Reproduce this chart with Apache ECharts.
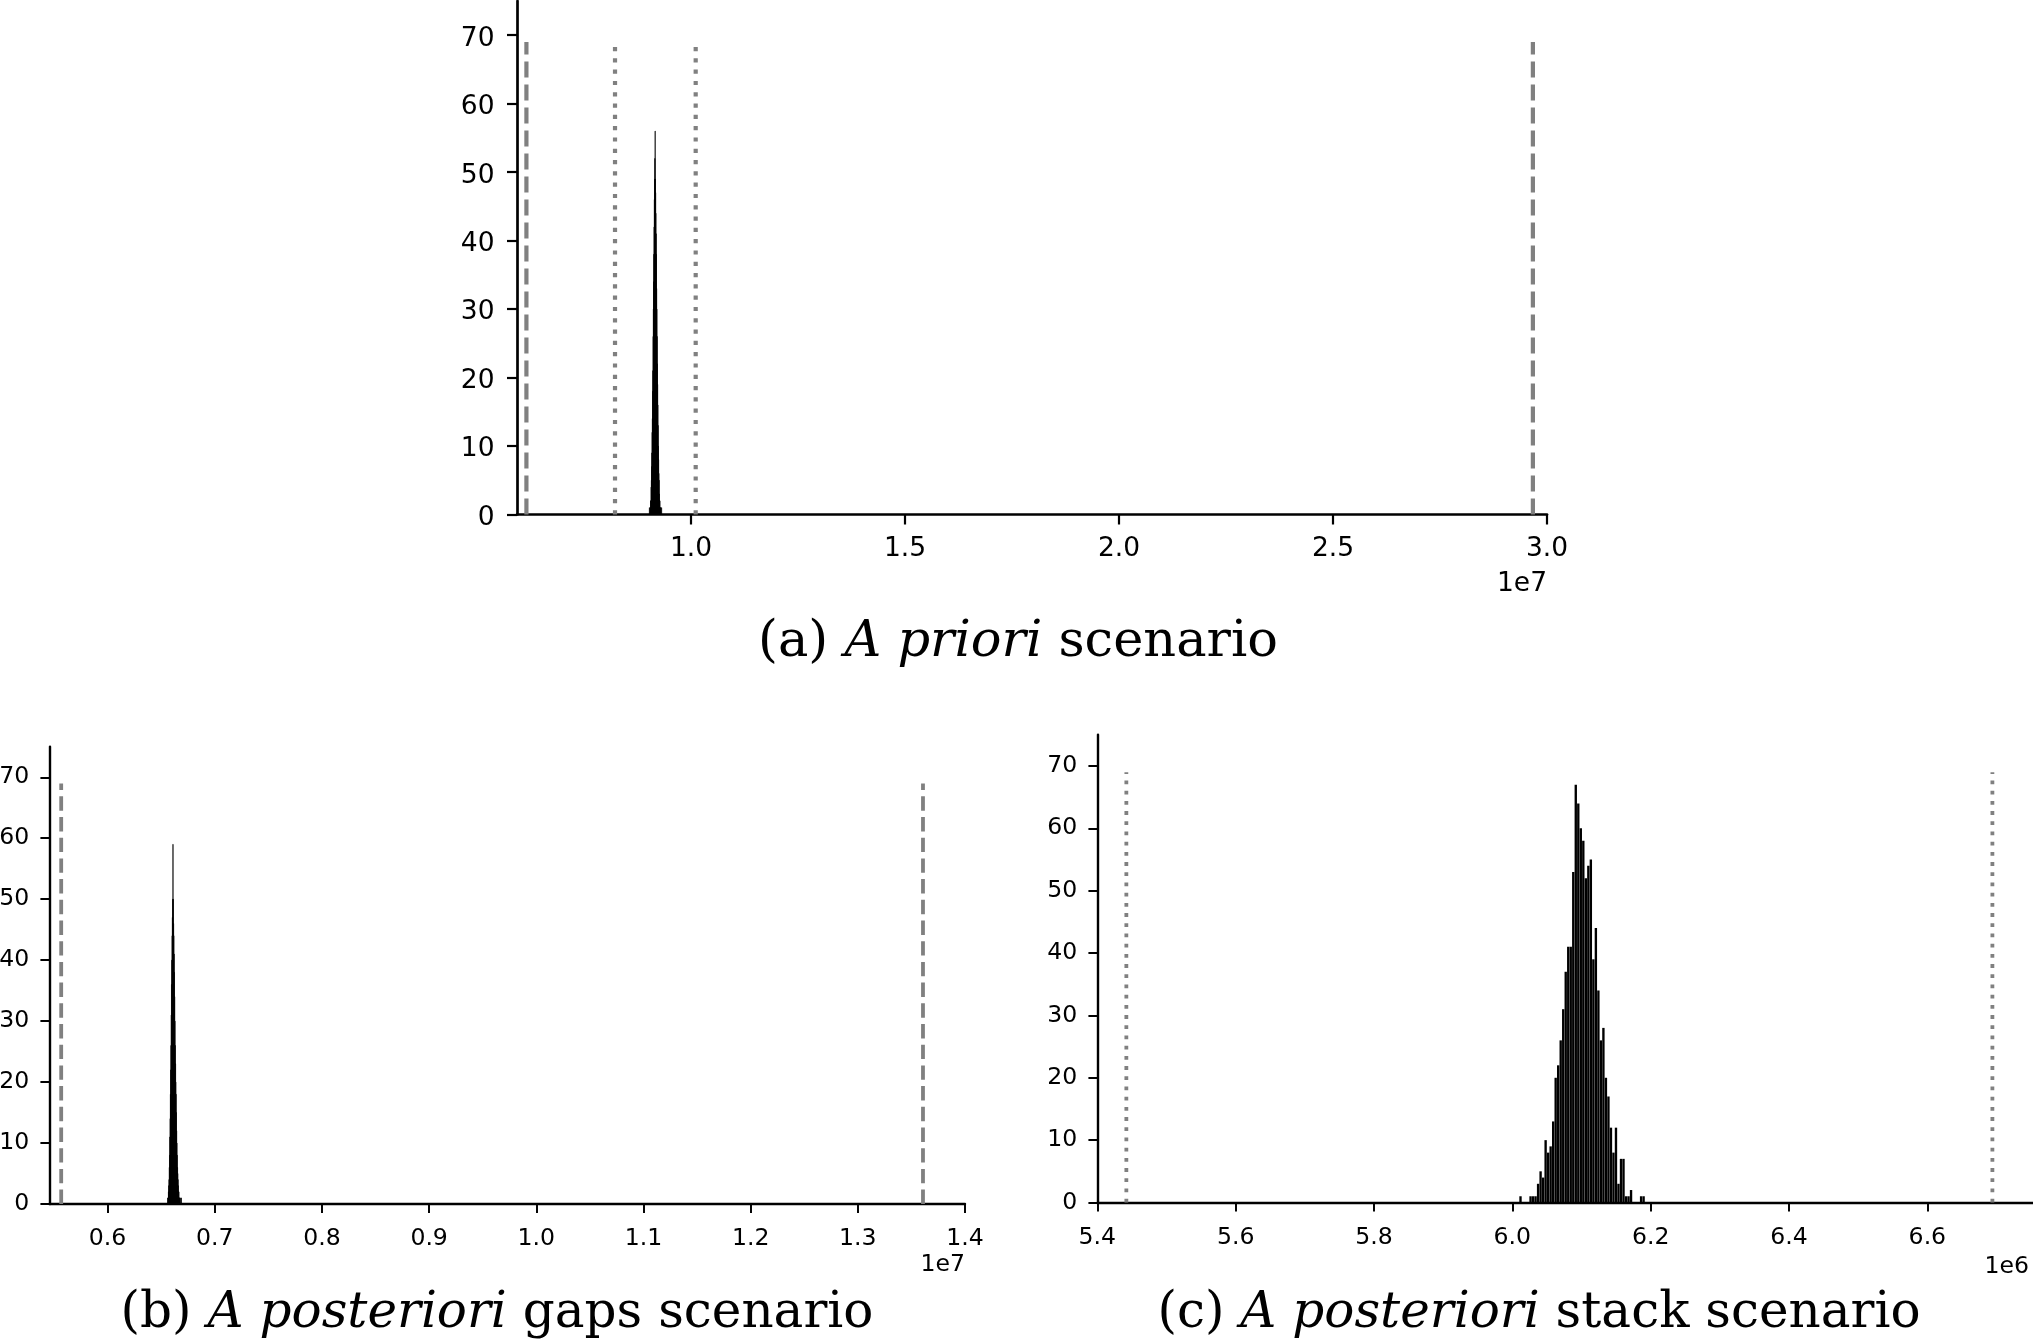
<!DOCTYPE html>
<html>
<head>
<meta charset="utf-8">
<script src="https://cdn.jsdelivr.net/npm/echarts@6/dist/echarts.min.js"></script>
<style>
  html, body { margin: 0; padding: 0; background: #fff; }
  #chart { width: 2033px; height: 1341px; }
</style>
</head>
<body>
<div id="chart"></div>
<script>
// shared count ticks
const countTicks = [0, 10, 20, 30, 40, 50, 60, 70]
const lineTop = 69

// (a) A priori scenario
const aTicks = [10000000, 15000000, 20000000, 25000000, 30000000]
const aBinStart = 9026000
const aBinWidth = 5800
const aCounts = [1, 0, 0, 1, 1, 2, 2, 4, 5, 7, 9, 12, 14, 18, 21, 26, 30, 34, 38, 42, 46, 49, 52, 56, 49,
  47, 44, 41, 38, 33, 30, 26, 22, 19, 16, 13, 10, 8, 6, 5, 3, 2, 2, 1, 1, 0, 1, 0, 0, 1]
const aDashed = [6155000, 29670000]
const aDotted = [8225000, 10110000]

// (b) A posteriori gaps scenario
const bTicks = [6000000, 7000000, 8000000, 9000000, 10000000, 11000000, 12000000, 13000000, 14000000]
const bBinStart = 6559200
const bBinWidth = 2608
const bCounts = [1, 0, 1, 2, 3, 4, 6, 8, 11, 14, 18, 22, 26, 31, 36, 40, 44, 47, 50, 59, 50, 46, 44, 41, 38,
  34, 30, 26, 23, 20, 18, 15, 12, 10, 8, 6, 5, 4, 3, 2, 2, 1, 1, 1, 0, 0, 1, 0, 0, 1]
const bDashed = [5567000, 13608000]

// (c) A posteriori stack scenario
const cTicks = [5400000, 5600000, 5800000, 6000000, 6200000, 6400000, 6600000]
const cBinStart = 6010100
const cBinWidth = 3632
const cCounts = [1, 0, 0, 0, 1, 1, 1, 3, 5, 4, 10, 8, 9, 13, 20, 22, 26, 31, 37, 41, 41, 53, 67, 64, 60,
  58, 52, 54, 55, 39, 44, 34, 26, 28, 20, 17, 12, 8, 12, 3, 7, 7, 1, 1, 2, 0, 0, 0, 1, 1]
const cDotted = [5442000, 6694000]

const tickFont = 'DejaVu Sans'
const capFont = 'DejaVu Serif'
const grey = '#808080'

const toBins = (start, width, counts) => counts.map((c, i) => [start + i * width, start + (i + 1) * width, c])

// s = scale of the panel (a is drawn a bit bigger than b and c)
function xAxisFor(gi, min, max, ticks, div, s, name, drop, margin, nudge) {
  return {
    type: 'value', gridIndex: gi, min, max,
    axisLine: { show: true, onZero: false, lineStyle: { color: '#000', width: 2.7 * s } },
    axisTick: { show: true, customValues: ticks, length: 10 * s, lineStyle: { color: '#000', width: 2.2 * s } },
    axisLabel: {
      customValues: ticks, formatter: v => (v / div).toFixed(1),
      color: '#000', fontFamily: tickFont, fontSize: 26.5 * s, margin
    },
    splitLine: { show: false },
    name, nameLocation: 'end', nameGap: 0, nameMoveOverlap: false,
    nameTextStyle: {
      color: '#000', fontFamily: tickFont, fontSize: 26.5 * s,
      align: 'right', verticalAlign: 'top', padding: [drop, nudge, 0, 0]
    }
  }
}

function yAxisFor(gi, s, shift) {
  return {
    type: 'value', gridIndex: gi, min: 0, max: 75,
    axisLine: { show: true, onZero: false, lineStyle: { color: '#000', width: 2.7 * s } },
    axisTick: { show: true, customValues: countTicks, length: 10 * s, lineStyle: { color: '#000', width: 2.2 * s } },
    axisLabel: {
      customValues: countTicks, color: '#000', margin: 22.5 * s,
      formatter: '{v|{value}}',
      rich: { v: { fontFamily: tickFont, fontSize: 26.5 * s, color: '#000', padding: [shift, 0, 0, 0] } }
    },
    splitLine: { show: false }
  }
}

function histSeries(gi, bins, gap, stroke) {
  return {
    type: 'custom', xAxisIndex: gi, yAxisIndex: gi, silent: true, animation: false,
    data: bins,
    encode: { x: [0, 1], y: 2 },
    renderItem: (params, api) => {
      const p0 = api.coord([api.value(0), api.value(2)])
      const p1 = api.coord([api.value(1), 0])
      return {
        type: 'rect',
        shape: { x: p0[0], y: p0[1], width: Math.max(p1[0] - p0[0] - gap, 0.1), height: p1[1] - p0[1] },
        style: stroke ? { fill: '#000', stroke: '#000', lineWidth: 0.6 } : { fill: '#000' }
      }
    }
  }
}

function vline(gi, x, dash, width) {
  return {
    type: 'line', xAxisIndex: gi, yAxisIndex: gi, silent: true, animation: false,
    symbol: 'none',
    data: [[x, 0], [x, lineTop]],
    lineStyle: { color: grey, width, type: dash, cap: 'butt' }
  }
}

const chart = echarts.init(document.getElementById('chart'))

const series = [
  histSeries(0, toBins(aBinStart, aBinWidth, aCounts), 0, true),
  histSeries(1, toBins(bBinStart, bBinWidth, bCounts), 0, true),
  histSeries(2, toBins(cBinStart, cBinWidth, cCounts), 0.15, false)
]
aDashed.forEach(x => series.push(vline(0, x, [16, 7], 4.2)))
aDotted.forEach(x => series.push(vline(0, x, [4.2, 7.1], 4.2)))
bDashed.forEach(x => series.push(vline(1, x, [14.4, 6.3], 3.8)))
cDotted.forEach(x => series.push(vline(2, x, [3.8, 6.4], 3.8)))

const caption = (x, y, size, tag, ital, rest) => ({
  type: 'text', x, y, silent: true,
  style: {
    text: `{n|${tag} }{i|${ital}}{n| ${rest}}`,
    align: 'center', verticalAlign: 'middle',
    rich: {
      n: { fontFamily: capFont, fontSize: size, fill: '#000' },
      i: { fontFamily: capFont, fontSize: size, fontStyle: 'italic', fill: '#000' }
    }
  }
})

chart.setOption({
  backgroundColor: '#fff',
  animation: false,
  grid: [
    { left: 517, top: 1, width: 1030, height: 513.5, outerBoundsMode: 'none' },
    { left: 49.3, top: 746.8, width: 915.7, height: 457.2, outerBoundsMode: 'none' },
    { left: 1097.3, top: 734.8, width: 935.7, height: 467.7, outerBoundsMode: 'none' }
  ],
  xAxis: [
    xAxisFor(0, 5935000, 30000000, aTicks, 1e7, 1, '1e7', 56, 21, 0),
    xAxisFor(1, 5456000, 14000000, bTicks, 1e7, 0.89, '1e7', 49, 23, 0),
    xAxisFor(2, 5400000, 6752700, cTicks, 1e6, 0.89, '1e6', 52, 23, 4)
  ],
  yAxis: [yAxisFor(0, 1, 7), yAxisFor(1, 0.89, 0), yAxisFor(2, 0.89, 0)],
  series,
  graphic: [
    caption(1018, 643, 51, '(a)', 'A priori', 'scenario'),
    caption(497, 1314, 50, '(b)', 'A posteriori', 'gaps scenario'),
    caption(1539, 1314, 50, '(c)', 'A posteriori', 'stack scenario')
  ]
})
</script>
</body>
</html>
